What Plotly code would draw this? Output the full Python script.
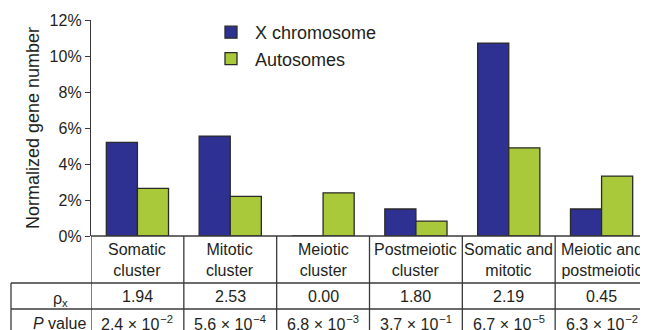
import plotly.graph_objects as go

categories = ["Somatic<br>cluster", "Mitotic<br>cluster", "Meiotic<br>cluster",
              "Postmeiotic<br>cluster", "Somatic and<br>mitotic", "Meiotic and<br>postmeiotic"]
x_chrom = [5.2, 5.55, 0.0, 1.5, 10.72, 1.5]
autosomes = [2.65, 2.2, 2.4, 0.83, 4.9, 3.33]
rho_x = ["1.94", "2.53", "0.00", "1.80", "2.19", "0.45"]
p_mant = ["2.4", "5.6", "6.8", "3.7", "6.7", "6.3"]
p_exp = ["2", "4", "3", "1", "5", "2"]
y_ticks = [0, 2, 4, 6, 8, 10, 12]

FONT = "Liberation Sans, Arial, sans-serif"
TXT = "#231f20"
LINE = "#3a3a3a"

# page body has an 8px margin; figure is sized/offset so the plot lands on the reference pixels
PAGE_OFF = 8
W, H = 648 - PAGE_OFF, 330 - PAGE_OFF
PLOT_L, PLOT_T, PLOT_B = 91, 20, 236  # page px
H_PLOT = float(PLOT_B - PLOT_T)
W_PLOT = 648 - PLOT_L

fig = go.Figure()
fig.add_trace(go.Bar(x=list(range(len(categories))), y=x_chrom, name="X chromosome",
                     marker=dict(color="#2e3192", line=dict(color="#2a2a2a", width=1.3))))
fig.add_trace(go.Bar(x=list(range(len(categories))), y=autosomes, name="Autosomes",
                     marker=dict(color="#a9c93b", line=dict(color="#2a2a2a", width=1.3))))

def py(p):  # px below the plot bottom -> paper
    return -p / H_PLOT

def px(p):  # page px x -> paper
    return (p - PLOT_L) / W_PLOT

LEFT = px(11)
shapes = []
n = len(categories)
shapes.append(dict(type="line", xref="x", yref="paper", x0=-0.5, x1=n - 0.5, y0=0, y1=0,
                   line=dict(color=LINE, width=1.3)))
for yy in [47, 73]:
    shapes.append(dict(type="line", xref="paper", yref="paper", x0=LEFT, x1=1, y0=py(yy), y1=py(yy),
                       line=dict(color=LINE, width=1.3)))
for k in range(n):
    shapes.append(dict(type="line", xref="x", yref="paper", x0=k - 0.5, x1=k - 0.5, y0=0, y1=py(110),
                       line=dict(color=LINE, width=1.3)))
shapes.append(dict(type="line", xref="paper", yref="paper", x0=LEFT, x1=LEFT, y0=py(47), y1=py(110),
                   line=dict(color=LINE, width=1.3)))

annotations = []
f16 = dict(family=FONT, size=16, color=TXT)
def ann(**kw):
    kw.setdefault("showarrow", False)
    kw.setdefault("font", f16)
    kw.setdefault("xanchor", "center")
    kw.setdefault("yanchor", "middle")
    annotations.append(kw)

for i, c in enumerate(categories):
    ann(x=i, y=py(24), xref="x", yref="paper", text=c)
    ann(x=i, y=py(60), xref="x", yref="paper", text=rho_x[i])
    ann(x=i, y=py(87), xref="x", yref="paper",
        text=f"{p_mant[i]} × 10<sup>\u200a−{p_exp[i]}</sup>")
ann(x=px(60), y=py(63), xref="paper", yref="paper", text="ρ<sub>x</sub>")
ann(x=px(59.5), y=py(87), xref="paper", yref="paper", text="<i>P</i> value")

fig.update_layout(
    width=W, height=H,
    margin=dict(l=PLOT_L - PAGE_OFF, r=0, t=PLOT_T - PAGE_OFF, b=H - (PLOT_B - PAGE_OFF)),
    paper_bgcolor="white", plot_bgcolor="white",
    barmode="group", bargap=0.33, bargroupgap=0,
    font=dict(family=FONT, size=16, color=TXT),
    showlegend=True,
    legend=dict(x=px(207), y=(PLOT_B - 14) / H_PLOT, xanchor="left", yanchor="top",
                bgcolor="rgba(0,0,0,0)", itemwidth=38,
                font=dict(family=FONT, size=18, color=TXT), tracegroupgap=0),
    xaxis=dict(range=[-0.5, n - 0.5], showticklabels=False, ticks="", showgrid=False,
               zeroline=False, showline=False),
    yaxis=dict(range=[0, 12], tickvals=y_ticks, ticktext=[f"{v}%" for v in y_ticks],
               ticks="outside", ticklen=5, tickcolor=LINE, tickwidth=1.3,
               showline=True, linecolor=LINE, linewidth=1.3, showgrid=False, zeroline=False,
               tickfont=dict(family=FONT, size=16, color=TXT),
               title=dict(text="Normalized gene number", font=dict(family=FONT, size=18, color=TXT),
                          standoff=5)),
    shapes=shapes, annotations=annotations,
)

fig.write_html("out.html")
